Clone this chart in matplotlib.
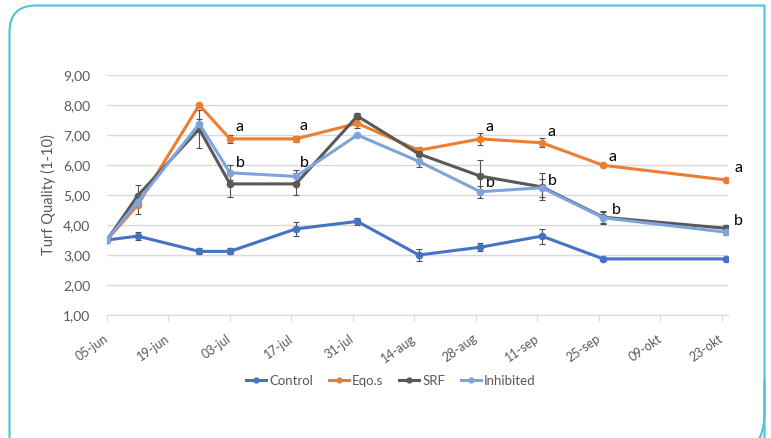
import datetime as dt
import matplotlib
matplotlib.use("Agg")
import matplotlib.pyplot as plt
import matplotlib.transforms as mtransforms
from matplotlib.path import Path
from matplotlib.patches import PathPatch
from matplotlib.lines import Line2D

plt.rcParams['font.family'] = ['Lato', 'DejaVu Sans']

# data
dates = ["2019-06-05", "2019-06-12", "2019-06-26", "2019-07-03", "2019-07-18", "2019-08-01",
         "2019-08-15", "2019-08-29", "2019-09-12", "2019-09-26", "2019-10-24"]
control = [3.50, 3.63, 3.12, 3.12, 3.87, 4.12, 3.00, 3.26, 3.63, 2.87, 2.87]
control_err = [0.0, 0.13, 0.10, 0.10, 0.23, 0.12, 0.20, 0.14, 0.25, 0.08, 0.08]
eqos = [3.50, 4.67, 8.00, 6.87, 6.87, 7.39, 6.49, 6.87, 6.74, 5.99, 5.50]
eqos_err = [0.0, 0.30, 0.0, 0.12, 0.10, 0.15, 0.10, 0.20, 0.15, 0.03, 0.03]
srf = [3.50, 4.98, 7.20, 5.37, 5.37, 7.63, 6.37, 5.63, 5.27, 4.26, 3.89]
srf_err = [0.0, 0.35, 0.62, 0.42, 0.37, 0.10, 0.20, 0.53, 0.45, 0.20, 0.10]
inhib = [3.50, 4.78, 7.37, 5.74, 5.62, 7.00, 6.12, 5.11, 5.24, 4.24, 3.76]
inhib_err = [0.0, 0.15, 0.15, 0.25, 0.20, 0.05, 0.20, 0.20, 0.30, 0.20, 0.10]

tick_dates = ["2019-06-05", "2019-06-19", "2019-07-03", "2019-07-17", "2019-07-31", "2019-08-14",
              "2019-08-28", "2019-09-11", "2019-09-25", "2019-10-09", "2019-10-23"]
tick_labels = ["05-jun", "19-jun", "03-jul", "17-jul", "31-jul", "14-aug",
               "28-aug", "11-sep", "25-sep", "09-okt", "23-okt"]
y_ticks = [1, 2, 3, 4, 5, 6, 7, 8, 9]

# significance letters at these point indices
letter_idx = [3, 4, 7, 8, 9, 10]
a_offsets = [(10, 12), (8, 13), (9, 12), (10, 11), (9, 8), (12, 12)]
b_offsets = [(10, 10), (8, 13), (10, 9), (11, 7), (13, 8), (12, 11)]

x = [dt.datetime.strptime(d, "%Y-%m-%d") for d in dates]
xt = [dt.datetime.strptime(d, "%Y-%m-%d") for d in tick_dates]

fig = plt.figure(figsize=(7.71, 4.38), dpi=100)
ax = fig.add_axes([107 / 771, 1 - 315 / 438, (728 - 107) / 771, 240 / 438])

series = [("Control", control, control_err, "#4472C4"),
          ("Eqo.s", eqos, eqos_err, "#ED7D31"),
          ("SRF", srf, srf_err, "#595959"),
          ("Inhibited", inhib, inhib_err, "#7FA3DC")]

handles = []
for name, vals, err, col in series:
    ax.errorbar(x, vals, yerr=err, color=col, lw=2.2, marker='o', ms=4.5,
                ecolor='#505050', elinewidth=0.8, capsize=2.5, capthick=0.8, zorder=3)
    handles.append(Line2D([], [], color=col, lw=2.2, marker='o', ms=3.5, label=name))

for i, (dx, dy) in zip(letter_idx, a_offsets):
    ax.annotate("a", (x[i], eqos[i]), xytext=(dx, dy), textcoords='offset pixels',
                ha='center', va='center', fontsize=11.5, color='black')
for i, (dx, dy) in zip(letter_idx, b_offsets):
    ax.annotate("b", (x[i], inhib[i]), xytext=(dx, dy), textcoords='offset pixels',
                ha='center', va='center', fontsize=11.5, color='black')

ax.set_ylim(1, 9)
ax.set_xlim(xt[0], xt[-1] + dt.timedelta(days=1.4))
ax.set_yticks(y_ticks)
ax.set_yticklabels([("%.2f" % v).replace(".", ",") for v in y_ticks])
ax.set_xticks(xt)
ax.set_xticklabels(tick_labels, rotation=35, ha='right', rotation_mode='anchor', va='center')
offset = mtransforms.ScaledTranslation(3 / 100, 0, fig.dpi_scale_trans)
for lab in ax.get_xticklabels():
    lab.set_transform(lab.get_transform() + offset)

ax.grid(axis='y', color='#D9D9D9', lw=1)
ax.set_axisbelow(True)
for s in ['top', 'right', 'left']:
    ax.spines[s].set_visible(False)
ax.spines['bottom'].set_color('#D9D9D9')
ax.tick_params(axis='y', length=0, pad=12, labelsize=10, labelcolor='#595959')
ax.tick_params(axis='x', length=4, color='#D9D9D9', pad=12, labelsize=9, labelcolor='#595959')
ax.set_ylabel("Turf Quality (1-10)", fontsize=10.5, color='#595959', labelpad=5)

fig.legend(handles=handles, loc='center', bbox_to_anchor=(391 / 771, 1 - 381 / 438), ncol=4,
           frameon=False, fontsize=9.5, handlelength=1.5, handletextpad=0.25,
           columnspacing=1.2, labelcolor='#595959')

# rounded frame around the chart
def fp(px, py):
    return (px / 771, 1 - py / 438)

verts = [fp(764.5, 445), fp(764.5, 5.5), fp(36, 5.5), fp(9.5, 5.5), fp(9.5, 32),
         fp(9.5, 445)]
codes = [Path.MOVETO, Path.LINETO, Path.LINETO, Path.CURVE3, Path.CURVE3, Path.LINETO]
fig.patches.append(PathPatch(Path(verts, codes), fill=False, edgecolor='#4CC3DB', lw=1.5,
                             transform=fig.transFigure))
verts2 = [fp(764.5, 380), fp(764.5, 412), fp(764.5, 445), fp(745, 450)]
codes2 = [Path.MOVETO, Path.LINETO, Path.CURVE3, Path.CURVE3]
fig.patches.append(PathPatch(Path(verts2, codes2), fill=False, edgecolor='#4CC3DB', lw=1.5,
                             transform=fig.transFigure))

fig.savefig("out.png", dpi=100)
